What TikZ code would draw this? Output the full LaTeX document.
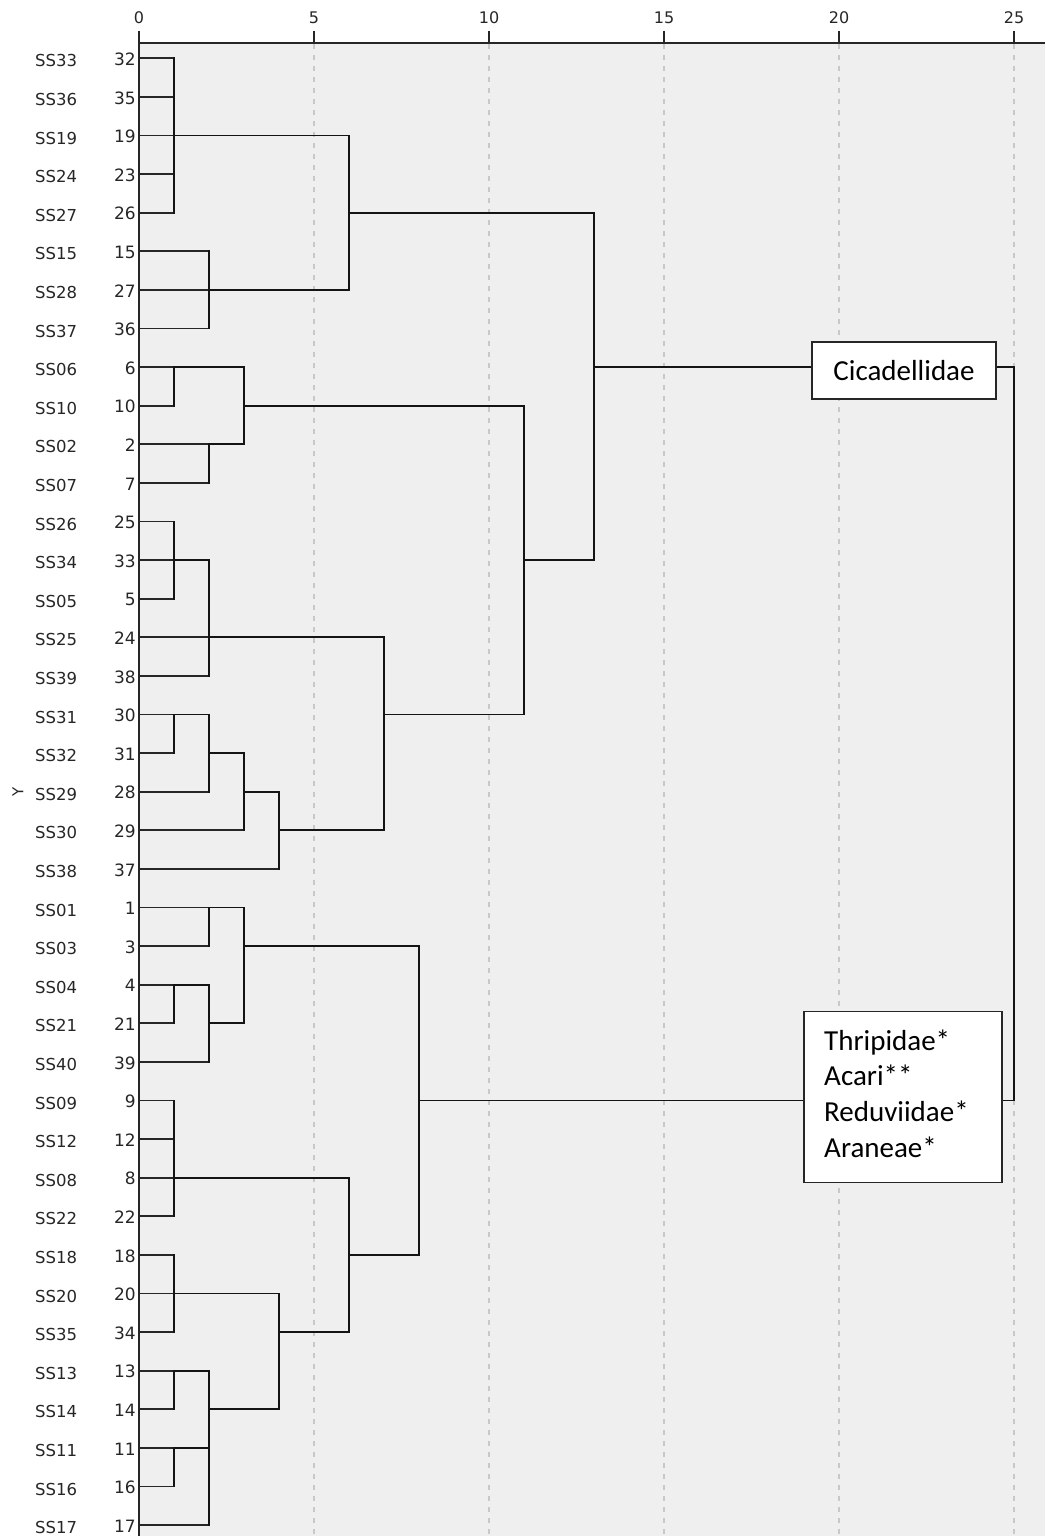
\documentclass[tikz,border=0pt]{standalone}
\usepackage{fontspec}
\setmainfont{DejaVu Sans}
\newfontfamily\boxfont{Carlito}
\newcommand\ux[1]{139+35*(#1)}
\newcommand\ry[1]{58.3+38.6*(#1)}
\definecolor{plotbg}{HTML}{EFEFEF}
\definecolor{gridc}{HTML}{C8C8C8}
\tikzset{
  leafline/.style={draw=black!85, line width=1.7pt, line cap=rect},
  clusline/.style={draw=black!92, line width=1.9pt, line cap=rect},
  axisline/.style={draw=black!85, line width=1.6pt},
  gridline/.style={draw=gridc, line width=1.1pt, dash pattern=on 5pt off 6pt},
  numlab/.style={anchor=east, inner sep=0pt, font=\fontsize{17}{20}\selectfont, text=black!85},
  sslab/.style={anchor=west, inner sep=0pt, font=\fontsize{16.5}{20}\selectfont, text=black!85},
  ticklab/.style={inner sep=0pt, font=\fontsize{16}{19}\selectfont, text=black!85},
  labelbox/.style={draw=black!85, line width=1.3pt, fill=white, inner sep=0pt},
  boxtext/.style={inner sep=0pt, font=\boxfont\fontsize{29}{35.6}\selectfont}
}
\begin{document}
\begin{tikzpicture}[x=1pt,y=-1pt]
\useasboundingbox (0,0) rectangle (1045,1536);
% plot area
\fill[plotbg] (139,43) rectangle (1045,1536);
\foreach \t in {1,...,5}{
  \draw[gridline] ({\ux{5*\t}},44) -- ({\ux{5*\t}},1536);
}
% axis
\draw[axisline] (139,43) -- (1045,43);
\draw[axisline] (139,31) -- (139,1536);
\foreach \t in {0,...,5}{
  \pgfmathtruncatemacro\tv{5*\t}
  \draw[axisline] ({\ux{5*\t}},31) -- ({\ux{5*\t}},43);
  \node[ticklab] (tick\t) at ({\ux{5*\t}},18) {\tv};
}
\node[ticklab, rotate=90, font=\fontsize{15}{18}\selectfont] (ylab) at (18,792) {Y};
% leaves
\foreach \i/\s/\n/\j in {0/SS33/32/1, 1/SS36/35/1, 2/SS19/19/1, 3/SS24/23/1, 4/SS27/26/1,
  5/SS15/15/2, 6/SS28/27/2, 7/SS37/36/2, 8/SS06/6/1, 9/SS10/10/1, 10/SS02/2/2, 11/SS07/7/2,
  12/SS26/25/1, 13/SS34/33/1, 14/SS05/5/1, 15/SS25/24/2, 16/SS39/38/2, 17/SS31/30/1,
  18/SS32/31/1, 19/SS29/28/2, 20/SS30/29/3, 21/SS38/37/4, 22/SS01/1/2, 23/SS03/3/2,
  24/SS04/4/1, 25/SS21/21/1, 26/SS40/39/2, 27/SS09/9/1, 28/SS12/12/1, 29/SS08/8/1,
  30/SS22/22/1, 31/SS18/18/1, 32/SS20/20/1, 33/SS35/34/1, 34/SS13/13/1, 35/SS14/14/1,
  36/SS11/11/1, 37/SS16/16/1, 38/SS17/17/2}{
  \node[sslab] (s\i) at (35,{\ry{\i}+2.5}) {\s};
  \node[numlab] (n\i) at (136,{\ry{\i}+1}) {\n};
  \coordinate (l\i) at (139,{\ry{\i}});
  \draw[leafline] (l\i) -- ({\ux{\j}},{\ry{\i}});
}
% cluster horizontals: row/from/to
\foreach \r/\f/\t in {2/1/6, 6/2/6, 4/6/13, 8/1/3, 10/2/3, 9/3/11, 13/1/2, 15/2/7,
  17/1/2, 18/2/3, 19/3/4, 20/4/7, 17/7/11, 13/11/13, 8/13/25,
  22/2/3, 24/1/2, 25/2/3, 23/3/8, 29/1/6, 32/1/4, 34/1/2, 36/1/2, 35/2/4,
  33/4/6, 31/6/8, 27/8/25}{
  \draw[clusline] ({\ux{\f}},{\ry{\r}}) -- ({\ux{\t}},{\ry{\r}});
}
% cluster verticals: level/rowA/rowB
\foreach \u/\a/\b in {1/0/4, 2/5/7, 6/2/6, 13/4/13, 1/8/9, 2/10/11, 3/8/10, 11/9/17,
  1/12/14, 2/13/16, 1/17/18, 2/17/19, 3/18/20, 4/19/21, 7/15/20, 25/8/27,
  2/22/23, 1/24/25, 2/24/26, 3/22/25, 8/23/31, 1/27/30, 1/31/33, 1/34/35,
  1/36/37, 2/34/38, 4/32/35, 6/29/33}{
  \draw[clusline] ({\ux{\u}},{\ry{\a}}) -- ({\ux{\u}},{\ry{\b}});
}
% label boxes
\node[labelbox, minimum width=184pt, minimum height=57pt, boxtext] (cic) at (904,370.5) {Cicadellidae};
\node[labelbox, anchor=north west, minimum width=198pt, minimum height=171pt] (grp) at (803.3,1010.7) {};
\node[boxtext, anchor=north west, align=left] (grptext) at (824,1029.5) {Thripidae*\\Acari**\\Reduviidae*\\Araneae*};
\end{tikzpicture}
\end{document}
